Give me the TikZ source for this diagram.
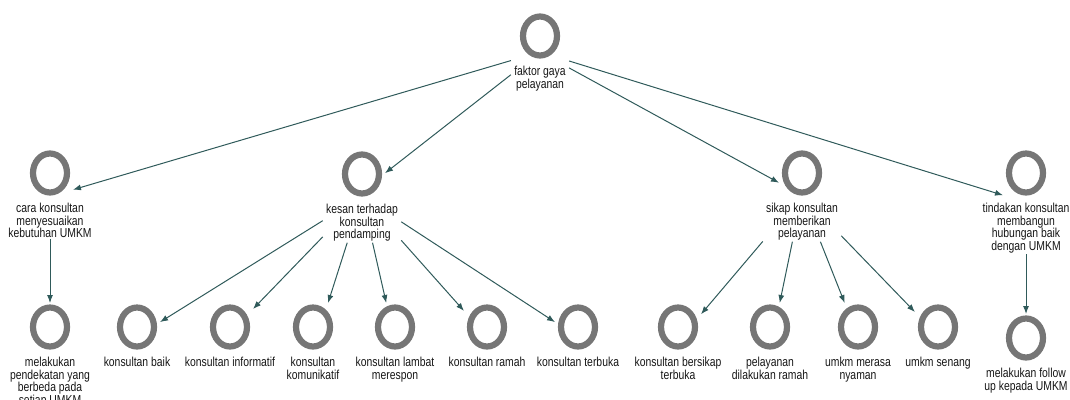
\documentclass[tikz,border=0pt]{standalone}
\usepackage{fontspec}
\newfontfamily\lblfont[FakeStretch=0.8]{Liberation Sans}
\usetikzlibrary{arrows.meta,positioning,fit}
\definecolor{ringgray}{HTML}{767676}
\definecolor{linkteal}{HTML}{2F5A5A}
\definecolor{txtgray}{HTML}{161616}
\tikzset{
  topic/.style={rectangle, minimum width=46pt, minimum height=48pt, inner sep=0pt, outer sep=0pt,
    path picture={\draw[ringgray, line width=6.2pt] (path picture bounding box.center) ellipse (17pt and 19.5pt);}},
  lbl/.style={font=\lblfont\fontsize{13pt}{12.5pt}\selectfont, text=txtgray, align=center,
    inner xsep=3pt, inner ysep=1pt},
  box/.style={inner sep=0pt},
  arr/.style={draw=linkteal, line width=1pt, -{Latex[length=8pt,width=6pt]}}
}
\begin{document}
\begin{tikzpicture}[x=1pt,y=-1pt]
  \useasboundingbox (0,0) rectangle (1070,399);
  % root
  \node[topic] (fg) at (540,36) {};
  \node[lbl, below=5pt of fg] (fgtxt) {faktor gaya\\pelayanan};
  \node[box, fit=(fg)(fgtxt)] (fgbox) {};
  % second row
  \node[topic] (cara) at (50,173) {};
  \node[lbl, below=5pt of cara] (caratxt) {cara konsultan\\menyesuaikan\\kebutuhan UMKM};
  \node[box, fit=(cara)(caratxt)] (carabox) {};
  \node[topic] (kesan) at (362,174) {};
  \node[lbl, below=5pt of kesan] (kesantxt) {kesan terhadap\\konsultan\\pendamping};
  \node[box, fit=(kesan)(kesantxt)] (kesanbox) {};
  \node[topic] (sikap) at (802,173) {};
  \node[lbl, below=5pt of sikap] (sikaptxt) {sikap konsultan\\memberikan\\pelayanan};
  \node[box, fit=(sikap)(sikaptxt)] (sikapbox) {};
  \node[topic] (tindakan) at (1026,173) {};
  \node[lbl, below=5pt of tindakan] (tindakantxt) {tindakan konsultan\\membangun\\hubungan baik\\dengan UMKM};
  \node[box, fit=(tindakan)(tindakantxt)] (tindakanbox) {};
  % third row
  \node[topic] (pendekatan) at (50,327) {};
  \node[lbl, below=5pt of pendekatan] {melakukan\\pendekatan yang\\berbeda pada\\setiap UMKM};
  \node[topic] (baik) at (137,327) {};
  \node[lbl, below=5pt of baik] {konsultan baik};
  \node[topic] (informatif) at (230,327) {};
  \node[lbl, below=5pt of informatif] {konsultan informatif};
  \node[topic] (komunikatif) at (313,327) {};
  \node[lbl, below=5pt of komunikatif] {konsultan\\komunikatif};
  \node[topic] (lambat) at (395,327) {};
  \node[lbl, below=5pt of lambat] {konsultan lambat\\merespon};
  \node[topic] (ramah) at (487,327) {};
  \node[lbl, below=5pt of ramah] {konsultan ramah};
  \node[topic] (terbuka) at (578,327) {};
  \node[lbl, below=5pt of terbuka] {konsultan terbuka};
  \node[topic] (bersikap) at (678,327) {};
  \node[lbl, below=5pt of bersikap] {konsultan bersikap\\terbuka};
  \node[topic] (dilakukan) at (770,327) {};
  \node[lbl, below=5pt of dilakukan] {pelayanan\\dilakukan ramah};
  \node[topic] (nyaman) at (858,327) {};
  \node[lbl, below=5pt of nyaman] {umkm merasa\\nyaman};
  \node[topic] (senang) at (938,327) {};
  \node[lbl, below=5pt of senang] {umkm senang};
  \node[topic] (followup) at (1026,338) {};
  \node[lbl, below=5pt of followup] {melakukan follow\\up kepada UMKM};
  % links
  \draw[arr] (fgbox) -- (cara.-36);
  \draw[arr] (fgbox) -- (kesan.2);
  \draw[arr] (fgbox) -- (sikap.203);
  \draw[arr] (fgbox) -- (tindakan.224);
  \draw[arr] (carabox) -- (pendekatan.north);
  \draw[arr] (kesanbox) -- (baik.12);
  \draw[arr] (kesanbox) -- (informatif.38);
  \draw[arr] (kesanbox) -- (komunikatif.58);
  \draw[arr] (kesanbox) -- (lambat.110);
  \draw[arr] (kesanbox) -- (ramah.145);
  \draw[arr] (kesanbox) -- (terbuka.168);
  \draw[arr] (sikapbox) -- (bersikap.29);
  \draw[arr] (sikapbox) -- (dilakukan.68);
  \draw[arr] (sikapbox) -- (nyaman.119);
  \draw[arr] (sikapbox) -- (senang.147);
  \draw[arr] (tindakanbox) -- (followup.north);
\end{tikzpicture}
\end{document}
